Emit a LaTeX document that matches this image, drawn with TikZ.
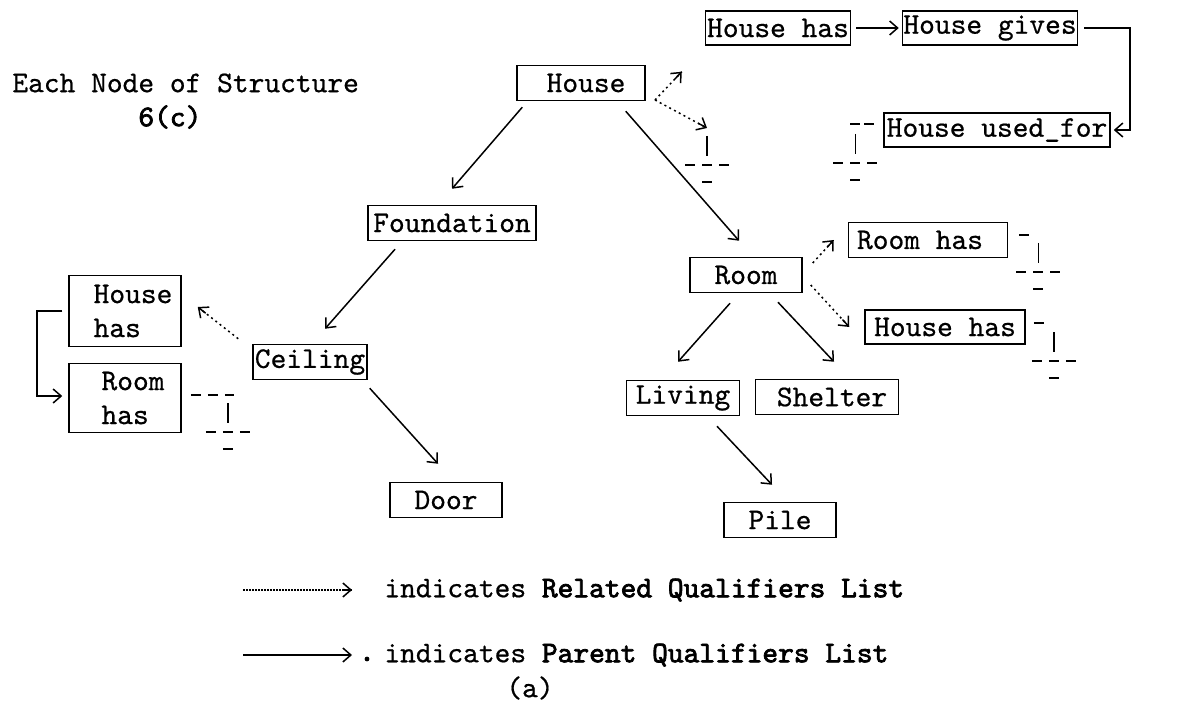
\documentclass[tikz,border=0pt]{standalone}
\usepackage{fontspec}
\usetikzlibrary{arrows.meta,calc}
% typewriter faces used throughout
\newfontfamily\tw{lmmono10-regular.otf}[FakeBold=0.6]
\newfontfamily\twb{lmmono10-regular.otf}[FakeBold=2.4]
% dotted link with a solid barb at its end
\newcommand\rellink[3][]{%
  \draw[rel,#1] (#2) -- (#3);
  \draw[reltip] ($(#3)!5pt!(#2)$) -- (#3);}
\begin{document}
\begin{tikzpicture}[x=0.5pt,y=-0.5pt,
  every node/.style={font=\tw\fontsize{15}{17}\selectfont, inner sep=0pt},
  box/.style={draw, line width=0.75pt, minimum height=17.5pt},
  par/.style={line width=0.75pt, -{Straight Barb[length=4pt,width=7pt]}},
  rel/.style={line width=0.75pt, dash pattern=on 1pt off 1.7pt},
  reltip/.style={solid, line width=0.75pt, -{Straight Barb[length=4pt,width=7pt]}},
  wire/.style={line width=0.75pt},
  gnd/.pic={
    \draw[line width=0.75pt] (0,0) -- (0,20);
    \draw[line width=0.75pt, dash pattern=on 5pt off 3.5pt] (-22,29) -- (22,29);
    \draw[line width=0.75pt] (-5,46) -- (5,46);
  }]
\useasboundingbox[fill=white] (0,0) rectangle (1197,705);

% heading
\node[anchor=west] (title) at (12,83) {Each Node of Structure};
\node[anchor=west] (sub) at (138,117) {\twb 6(c)};

% the structure
\node[box, minimum width=64pt] (house) at (581,83) {\hspace*{5pt}House};
\node[box, minimum width=84pt] (foundation) at (452,223) {Foundation};
\node[box, minimum width=57pt] (ceiling) at (310,362) {Ceiling};
\node[box, minimum width=56pt] (door) at (446,500) {Door};
\node[box, minimum width=56pt] (room) at (746,275) {Room};
\node[box, minimum width=56.5pt] (living) at (683,398) {Living};
\node[box, minimum width=71.5pt] (shelter) at (827,397) {\hspace*{5pt}Shelter};
\node[box, minimum width=56pt] (pile) at (780,520) {Pile};

% qualifier lists
\node[box, minimum width=72.5pt, minimum height=17pt] (hhas) at (778,28) {House has};
\node[box, minimum width=87.5pt, minimum height=17pt] (hgives) at (990,28) {House gives};
\node[box, minimum width=113pt, minimum height=17pt] (hused) at (997,130) {House used\_for};
\node[box, minimum width=79.5pt] (rhas) at (928,240) {Room has\hspace*{8pt}};
\node[box, minimum width=80pt, minimum height=17pt] (hhas2) at (945,327) {House has};
\node[box, minimum width=56pt, minimum height=35.5pt, align=left] (lhouse) at (125,311) {\hspace*{8pt}House\\\hspace*{8pt}has};
\node[box, minimum width=56pt, minimum height=34.5pt, align=left] (lroom) at (125,398) {\hspace*{8pt}Room\\\hspace*{8pt}has};

% parent links
\draw[par] ($(house.south west)+(6,6)$) -- ($(foundation.north)+(0,-16)$);
\draw[par] ($(house.south east)+(-20,10)$) -- ($(room.north)+(-7,-16)$);
\draw[par] ($(foundation.south)+(-57,8)$) -- ($(ceiling.north)+(15,-15)$);
\draw[par] ($(ceiling.south east)+(2,8)$) -- ($(door.north)+(-8,-18)$);
\draw[par] ($(room.south)+(-16,10)$) -- ($(living.north)+(-5,-18)$);
\draw[par] ($(room.south)+(32,9)$) -- ($(shelter.north)+(7,-17)$);
\draw[par] ($(living.south)+(34,10)$) -- ($(pile.north)+(-8,-17)$);
\draw[par] ($(hhas.east)+(5,0)$) -- ($(hgives.west)+(-3,0)$);
\draw[par] ($(hgives.east)+(6,0)$) -- (1130,28) -- (1130,130) -- ($(hused.east)+(3,0)$);
\draw[par] ($(lhouse.west)+(-6,0)$) -- (37,311) -- (37,396) -- ($(lroom.west)+(-6,-2)$);

% related links
\coordinate (hsplit) at (655,100);
\coordinate (hhasin) at ($(hhas.south west)+(-23,26)$);
\coordinate (hgnd) at (707,128);
\coordinate (roomout1) at ($(room.east)+(10,-12)$);
\coordinate (rhasin) at ($(rhas.west)+(-14,0)$);
\coordinate (roomout2) at ($(room.east)+(8,10)$);
\coordinate (hhas2in) at ($(hhas2.west)+(-15,0)$);
\coordinate (ceilout) at ($(ceiling.north west)+(-14,-5)$);
\coordinate (lhousein) at ($(lhouse.east)+(16,-4)$);
\rellink{hsplit}{hhasin}
\rellink{hsplit}{hgnd}
\rellink{roomout1}{rhasin}
\rellink{roomout2}{hhas2in}
\rellink{ceilout}{lhousein}

% end-of-list grounds
\pic at (707,136) {gnd};
\draw[wire, dash pattern=on 5pt off 2pt] ($(hused.west)+(-33,-6)$) -- ($(hused.west)+(-9,-6)$);
\pic at ($(hused.west)+(-28,4)$) {gnd};
\draw[wire] ($(rhas.east)+(11,-5)$) -- ($(rhas.east)+(21,-5)$);
\pic at ($(rhas.east)+(30,3)$) {gnd};
\draw[wire] ($(hhas2.east)+(8,-4)$) -- ($(hhas2.east)+(18,-4)$);
\pic at ($(hhas2.east)+(28,5)$) {gnd};
\draw[wire, dash pattern=on 5pt off 3.5pt] ($(lroom.east)+(9,-3)$) -- ($(lroom.east)+(52,-3)$);
\pic at ($(lroom.east)+(46,5)$) {gnd};

% legend
\node[anchor=west] (leg1) at (384,590) {indicates {\twb Related Qualifiers List}};
\coordinate (r0) at (243,590);
\coordinate (r1) at ($(leg1.west)+(-32,0)$);
\rellink[dash pattern=on 1pt off 0.5pt]{r0}{r1}
\node[anchor=west] (leg2) at (384,655) {indicates {\twb Parent Qualifiers List}};
\coordinate (p0) at (243,655);
\draw[par] (p0) -- ($(leg2.west)+(-32,0)$);
\fill ($(leg2.west)+(-17,4)$) circle (2.4);
\node (cap) at (530,688) {(a)};
\end{tikzpicture}
\end{document}
